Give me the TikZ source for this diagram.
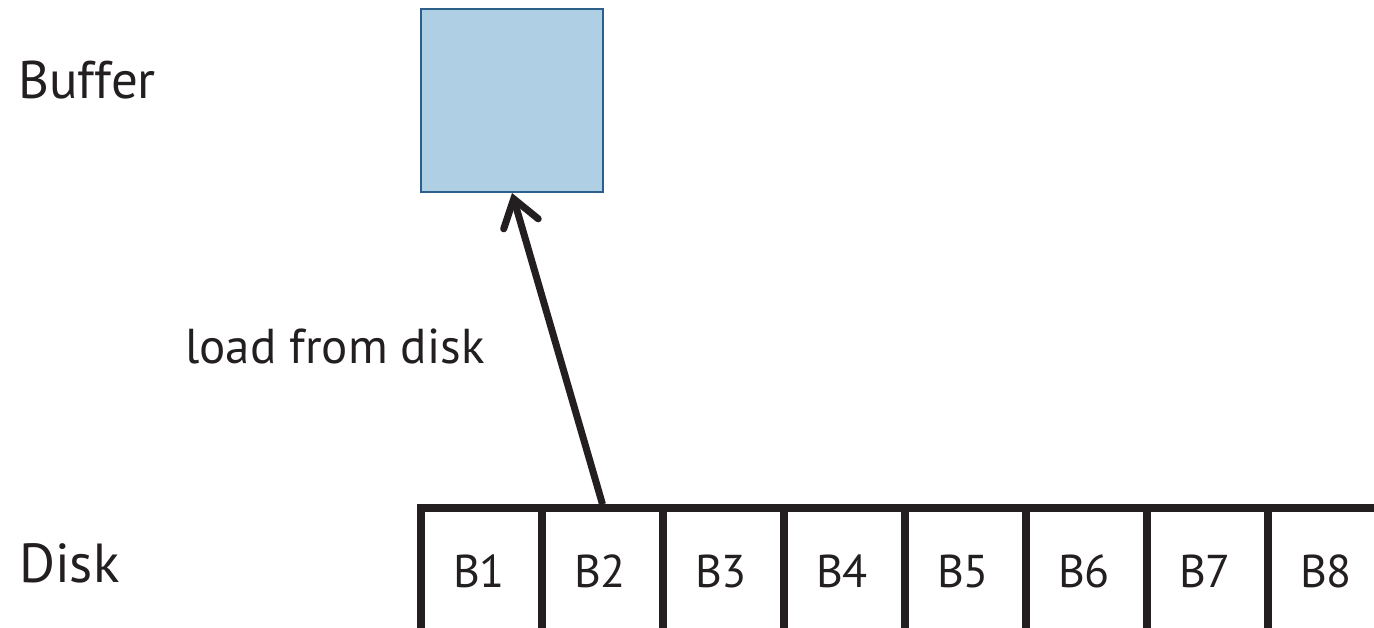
\documentclass[tikz,border=0pt]{standalone}
\usepackage{fontspec}
\setmainfont{PT Sans}
\usetikzlibrary{arrows.meta}
\definecolor{ink}{HTML}{231F20}
\definecolor{buffill}{HTML}{AFCFE5}
\definecolor{bufline}{HTML}{2C5F8A}
\tikzset{
  lbl/.style={anchor=base west, inner sep=0pt, text=ink, font=\fontsize{53}{60}\selectfont},
  blk/.style={draw=ink, line width=7.5pt, minimum width=121pt, minimum height=130pt, inner sep=0pt, text=ink, font=\fontsize{46}{54}\selectfont},
  buf/.style={draw=bufline, fill=buffill, line width=2pt, minimum width=182pt, minimum height=183pt, inner sep=0pt},
  loadarrow/.style={draw=ink, line width=7pt, -{Straight Barb[length=26pt, width=36pt, line cap=round]}}
}
\begin{document}
\begin{tikzpicture}[x=1pt, y=-1pt]
\useasboundingbox (0,0) rectangle (1374,627);
\fill[white] (0,0) rectangle (1374,627);
\node[buf] (buf) at (512,100.5) {};
\begin{scope}
\clip (0,0) rectangle (1374,627);
\foreach \i in {1,...,8} {
  \node[blk] (b\i) at ({421+121*(\i-1)+60.5},573) {};
}
\end{scope}
\foreach \i in {1,...,8} {
  \node[text=ink, font=\fontsize{46}{54}\selectfont, anchor=base, inner sep=0pt] (t\i) at ({421+121*(\i-1)+58},587) {B\i};
}
\draw[loadarrow] (b2.north) -- (buf.south);
\node[lbl] (lbuf) at (18,98) {Buffer};
\node[lbl, font=\fontsize{55}{62}\selectfont] (ldisk) at (19,582) {Disk};
\node[lbl, font=\fontsize{49}{56}\selectfont] (lload) at (185,363) {load from disk};
\end{tikzpicture}
\end{document}
